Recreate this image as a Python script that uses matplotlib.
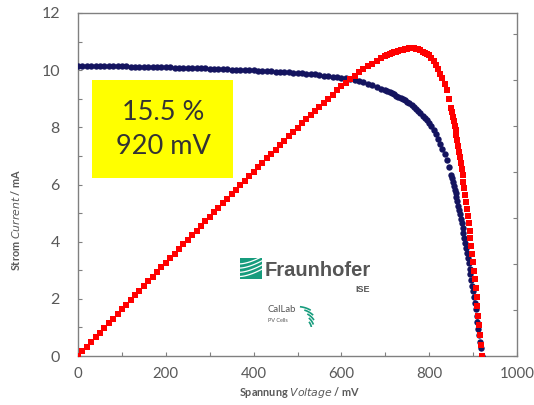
import matplotlib
matplotlib.use("Agg")
import matplotlib.pyplot as plt
import numpy as np
from matplotlib.patches import Rectangle

# I-V sweep of the cell: voltage in mV, current in mA, power (same left scale)
voltage = [
    0, 10, 20, 30, 40, 50, 60, 70, 80, 90,
    100, 110, 120, 130, 140, 150, 160, 170, 180, 190,
    200, 210, 220, 230, 240, 250, 260, 270, 280, 290,
    300, 310, 320, 330, 340, 350, 360, 370, 380, 390,
    400, 410, 420, 430, 440, 450, 460, 470, 480, 490,
    500, 510, 520, 530, 540, 550, 560, 570, 580, 590,
    600, 610, 620, 630, 640, 650, 660, 670, 680, 690,
    700, 705, 710, 715, 720, 725, 730, 735, 740, 745,
    750, 755, 760, 765, 770, 775, 780, 785, 790, 795,
    800, 805, 810, 815, 820, 825, 830, 835, 840, 845,
    850, 852, 854, 856, 858, 860, 862, 864, 866, 868,
    870, 872, 874, 876, 878, 880, 882, 884, 886, 888,
    890, 892, 894, 896, 898, 900, 902, 904, 906, 908,
    910, 912, 914, 916, 918, 920,
]
current = [
    10.15, 10.15, 10.15, 10.15, 10.14, 10.14, 10.14, 10.14, 10.13, 10.13,
    10.13, 10.13, 10.12, 10.12, 10.12, 10.12, 10.11, 10.11, 10.11, 10.10,
    10.10, 10.10, 10.09, 10.09, 10.09, 10.08, 10.08, 10.07, 10.07, 10.06,
    10.05, 10.05, 10.04, 10.04, 10.03, 10.02, 10.02, 10.01, 10.00, 10.00,
    9.99, 9.98, 9.97, 9.97, 9.96, 9.95, 9.94, 9.93, 9.92, 9.91,
    9.90, 9.89, 9.87, 9.86, 9.85, 9.83, 9.81, 9.79, 9.77, 9.76,
    9.74, 9.71, 9.68, 9.65, 9.61, 9.57, 9.52, 9.47, 9.41, 9.35,
    9.30, 9.27, 9.23, 9.19, 9.15, 9.11, 9.07, 9.03, 8.98, 8.94,
    8.89, 8.84, 8.78, 8.72, 8.65, 8.58, 8.50, 8.41, 8.33, 8.24,
    8.15, 8.03, 7.90, 7.75, 7.59, 7.42, 7.25, 7.06, 6.86, 6.60,
    6.33, 6.21, 6.08, 5.95, 5.82, 5.69, 5.55, 5.41, 5.26, 5.11,
    4.96, 4.80, 4.64, 4.48, 4.31, 4.14, 3.97, 3.79, 3.61, 3.43,
    3.24, 3.05, 2.86, 2.66, 2.46, 2.26, 2.05, 1.84, 1.63, 1.41,
    1.19, 0.96, 0.74, 0.50, 0.27, 0.00,
]
power = [
    0.00, 0.16, 0.33, 0.49, 0.65, 0.82, 0.98, 1.15, 1.31, 1.47,
    1.63, 1.80, 1.96, 2.12, 2.29, 2.45, 2.61, 2.77, 2.94, 3.10,
    3.26, 3.42, 3.58, 3.74, 3.91, 4.07, 4.23, 4.39, 4.55, 4.71,
    4.86, 5.03, 5.18, 5.34, 5.50, 5.66, 5.82, 5.97, 6.13, 6.29,
    6.45, 6.60, 6.75, 6.92, 7.07, 7.22, 7.38, 7.53, 7.68, 7.83,
    7.98, 8.14, 8.28, 8.43, 8.58, 8.72, 8.86, 9.00, 9.14, 9.29,
    9.43, 9.55, 9.68, 9.81, 9.92, 10.03, 10.13, 10.23, 10.32, 10.41,
    10.50, 10.54, 10.57, 10.60, 10.63, 10.65, 10.68, 10.71, 10.72, 10.74,
    10.75, 10.77, 10.76, 10.76, 10.74, 10.73, 10.69, 10.65, 10.61, 10.57,
    10.52, 10.43, 10.32, 10.19, 10.04, 9.87, 9.71, 9.51, 9.29, 8.99,
    8.68, 8.53, 8.37, 8.21, 8.05, 7.89, 7.72, 7.54, 7.35, 7.15,
    6.96, 6.75, 6.54, 6.33, 6.10, 5.88, 5.65, 5.40, 5.16, 4.91,
    4.65, 4.39, 4.12, 3.84, 3.56, 3.28, 2.98, 2.68, 2.38, 2.06,
    1.75, 1.41, 1.09, 0.74, 0.40, 0.00,
]

x_ticks = [0, 200, 400, 600, 800, 1000]
y_ticks = [0, 2, 4, 6, 8, 10, 12]
efficiency_text = "15.5 %\n920 mV"

grey = "#808080"
label_grey = "#595959"
font = ["Lato", "DejaVu Sans"]

fig = plt.figure(figsize=(5.34, 4.05), dpi=100)
ax = fig.add_axes([78 / 534, 1 - 356 / 405, 439 / 534, 343 / 405])

ax.plot(voltage, current, linestyle="none", marker="o", markersize=4.6,
        color="#14145f", markeredgewidth=0, zorder=3)
ax.plot(voltage, power, linestyle="none", marker="s", markersize=4.0,
        color="#ff0000", markeredgewidth=0, zorder=4)

ax.set_xlim(0, 1000)
ax.set_ylim(0, 12)
ax.set_xticks(x_ticks)
ax.set_yticks(y_ticks)
ax.set_xticks(np.arange(0, 1001, 100), minor=True)
ax.set_yticks(np.arange(0, 13, 1), minor=True)
ax.tick_params(which="both", direction="in", colors=grey, labelcolor=label_grey,
               labelsize=11.5, length=3, width=0.8)
ax.tick_params(axis="x", pad=8, labelsize=10.8)
ax.tick_params(axis="y", pad=13)
for lbl in ax.get_xticklabels() + ax.get_yticklabels():
    lbl.set_family(font)
for sp in ax.spines.values():
    sp.set_color(grey)
    sp.set_linewidth(1.0)

# secondary scale on the right, only its ticks are visible
ax2 = ax.twinx()
ax2.set_ylim(0, 343 / 46)
ax2.set_yticks(np.arange(0, 8, 1))
ax2.tick_params(direction="in", colors=grey, length=3, width=0.8, labelright=False)
for sp in ax2.spines.values():
    sp.set_visible(False)

fig.text(16 / 534, 1 - 220 / 405, "Strom $\\it{Current}$ / mA", rotation=90,
         ha="center", va="center", fontsize=7.8, color=label_grey,
         fontweight="bold", family=font)
fig.text(300 / 534, 1 - 393 / 405, "Spannung $\\it{Voltage}$ / mV",
         ha="center", va="center", fontsize=7.8, color=label_grey,
         fontweight="bold", family=font)

# yellow result box
fig.patches.append(Rectangle((92 / 534, 1 - 178 / 405), 141 / 534, 98 / 405,
                             transform=fig.transFigure, facecolor="#ffff00",
                             edgecolor="none", zorder=5))
fig.text(163 / 534, 1 - 130 / 405, efficiency_text, ha="center", va="center",
         fontsize=19.5, color="#333333", family=font, linespacing=1.45, zorder=6)

# Fraunhofer ISE logo
icon = fig.add_axes([240 / 534, 1 - 279 / 405, 22 / 534, 21 / 405])
icon.add_patch(Rectangle((0, 0), 1, 1, facecolor="#179c7d", edgecolor="none"))
for k in range(4):
    t = np.linspace(0, 1, 20)
    icon.plot(t, 0.12 + 0.2 * k + 0.35 * t ** 1.6, color="white", lw=0.9)
icon.set_xlim(0, 1)
icon.set_ylim(0, 1)
icon.axis("off")
fig.text(265 / 534, 1 - 270 / 405, "Fraunhofer", ha="left", va="center",
         fontsize=14.5, fontweight="bold", color="#555555",
         family=["Liberation Sans", "DejaVu Sans"])
fig.text(370 / 534, 1 - 289 / 405, "ISE", ha="right", va="center",
         fontsize=6.5, fontweight="bold", color="#555555",
         family=["Liberation Sans", "DejaVu Sans"])

fig.text(267 / 534, 1 - 310 / 405, "CalLab", ha="left", va="center",
         fontsize=6.8, color="#555555", family=font)
fig.text(268 / 534, 1 - 320 / 405, "PV Cells", ha="left", va="center",
         fontsize=4, color="#555555", family=font)
fan = fig.add_axes([296 / 534, 1 - 327 / 405, 26 / 534, 24 / 405])
for k in range(5):
    ang = np.linspace(0.15 + 0.22 * k, 0.55 + 0.22 * k, 20)
    r = 0.55 + 0.1 * k
    fan.plot(r * np.cos(ang) + 0.05, r * np.sin(ang) - 0.1,
             color="#179c7d", lw=1.2)
fan.set_xlim(0, 1)
fan.set_ylim(0, 1)
fan.axis("off")

fig.savefig("out.png", dpi=100)
